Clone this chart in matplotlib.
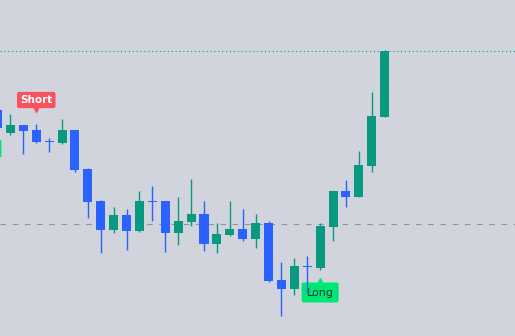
import matplotlib
matplotlib.use('Agg')
import matplotlib.pyplot as plt
from matplotlib.patches import FancyBboxPatch
import numpy as np

# candle data (price units), first candle is cut by the left edge
opens  = [226, 203, 211, 206, 195, 193, 206, 167, 135, 106, 121, 105, 135, 135, 103, 114,
          122, 92, 101, 107, 97, 113, 56, 47, 70, 68, 109, 145, 139, 170, 219]
highs  = [228, 222, 211, 212, 198, 217, 206, 168, 136, 129, 127, 145, 150, 135, 139, 157,
          135, 113, 135, 127, 122, 115, 74, 78, 80, 113, 145, 156, 185, 244, 286]
lows   = [206, 201, 182, 193, 184, 192, 164, 118, 83, 103, 86, 104, 115, 84, 91, 110,
          85, 83, 100, 95, 88, 54, 20, 41, 43, 66, 95, 129, 139, 164, 219]
closes = [208, 211, 205, 194, 194, 206, 166, 134, 106, 121, 105, 135, 134, 103, 115, 122,
          92, 102, 107, 97, 113, 55, 47, 70, 69, 110, 145, 139, 171, 220, 285]

target_level = 285   # dotted line
entry_level = 112    # dashed line

short_idx = 3
long_idx = 25

bg = '#d1d4dc'
up_col = '#089981'
down_col = '#2962ff'

fig = plt.figure(figsize=(5.15, 3.36), dpi=100)
fig.patch.set_facecolor(bg)
ax = fig.add_axes([0, 0, 1, 1])
ax.set_facecolor(bg)

x = np.arange(len(opens))
o = np.array(opens, dtype=float)
c = np.array(closes, dtype=float)
h = np.array(highs, dtype=float)
l = np.array(lows, dtype=float)
cols = [up_col if cc > oo else down_col for oo, cc in zip(o, c)]

ax.axhline(entry_level, color='#8f939d', lw=0.8, linestyle=(0, (5, 6)), zorder=1)
ax.axhline(target_level, color=up_col, lw=0.8, linestyle=(0, (1, 2.5)), zorder=1)

# labels
ax.annotate('Short', xy=(short_idx, 225), xytext=(short_idx, 236),
            ha='center', va='center', color='white', fontsize=7.5, fontweight='bold',
            bbox=dict(boxstyle='round,pad=0.3,rounding_size=0.2', fc='#f7525f', ec='none'),
            zorder=2)
ax.plot([short_idx], [227], marker='v', color='#f7525f', markersize=4, zorder=2)

ax.annotate('Long', xy=(long_idx, 55), xytext=(long_idx, 43.5),
            ha='center', va='center', color='#1b3b2c', fontsize=8,
            bbox=dict(boxstyle='round,pad=0.45,rounding_size=0.2', fc='#00e676', ec='none'),
            zorder=2)
ax.plot([long_idx], [55], marker='^', color='#00e676', markersize=4, zorder=2)

# edge of an older label, cut by the left border
ax.add_patch(FancyBboxPatch((-2.5, 179), 2.8, 17, boxstyle='round,pad=0,rounding_size=0.15',
                            fc='#00e676', ec='none', zorder=2))

# candles
ax.vlines(x, l, h, colors=cols, lw=1.0, zorder=3)
body = np.maximum(np.abs(c - o), 1.2)
ax.bar(x, body, bottom=np.minimum(o, c), width=0.7, color=cols, zorder=3)

ax.set_xlim(0.19, 40.1)
ax.set_ylim(0, 336)
ax.axis('off')

fig.savefig('out.png', dpi=100, facecolor=bg)
